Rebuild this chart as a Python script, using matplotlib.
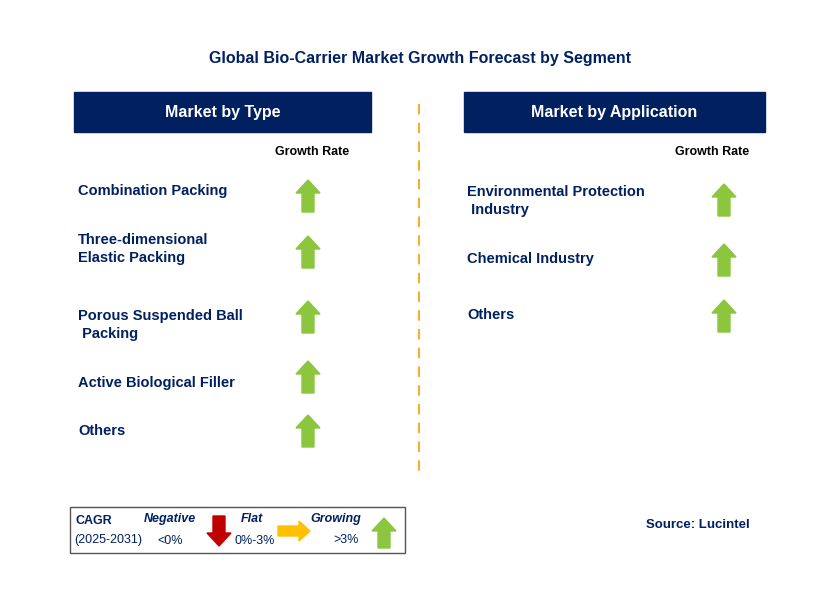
import matplotlib
matplotlib.use("Agg")
import matplotlib.pyplot as plt
from matplotlib.patches import Rectangle, Polygon

plt.rcParams["font.family"] = "Liberation Sans"

title = "Global Bio-Carrier Market Growth Forecast by Segment"
type_labels = ["Combination Packing", "Three-dimensional\nElastic Packing",
               "Porous Suspended Ball\n Packing", "Active Biological Filler", "Others"]
type_growth = ["growing"] * 5
app_labels = ["Environmental Protection\n Industry", "Chemical Industry", "Others"]
app_growth = ["growing"] * 3

NAVY = "#002060"
GREEN = "#8cc63f"
fig = plt.figure(figsize=(8.29, 5.89), dpi=100)
ax = fig.add_axes([0, 0, 1, 1])
ax.set_xlim(0, 829); ax.set_ylim(589, 0); ax.axis("off")

def up_arrow(x, y, color=GREEN, w=24, h=32):
    pts = [(x - 6, y + h/2), (x + 6, y + h/2), (x + 6, y - h/2 + 13),
           (x + w/2, y - h/2 + 13), (x, y - h/2), (x - w/2, y - h/2 + 13),
           (x - 6, y - h/2 + 13)]
    ax.add_patch(Polygon(pts, closed=True, color=color))

def down_arrow(x, y, color="#c00000", w=24, h=32):
    pts = [(x - 6, y - h/2), (x + 6, y - h/2), (x + 6, y + h/2 - 13),
           (x + w/2, y + h/2 - 13), (x, y + h/2), (x - w/2, y + h/2 - 13),
           (x - 6, y + h/2 - 13)]
    ax.add_patch(Polygon(pts, closed=True, color=color))

def right_arrow(x, y, color="#ffc000", w=32, h=20):
    pts = [(x - w/2, y - 5), (x + w/2 - 11, y - 5), (x + w/2 - 11, y - h/2),
           (x + w/2, y), (x + w/2 - 11, y + h/2), (x + w/2 - 11, y + 5), (x - w/2, y + 5)]
    ax.add_patch(Polygon(pts, closed=True, color=color))

ax.text(420, 58, title, ha="center", va="center", fontsize=11.5, fontweight="bold", color=NAVY)

for x0, x1, t in [(74, 371, "Market by Type"), (464, 765, "Market by Application")]:
    ax.add_patch(Rectangle((x0, 92), x1 - x0, 40, color=NAVY))
    ax.text((x0 + x1) / 2, 112, t, ha="center", va="center", fontsize=11.5, fontweight="bold", color="white")

ax.text(312, 152, "Growth Rate", ha="center", va="center", fontsize=9, fontweight="bold", color="black")
ax.text(712, 152, "Growth Rate", ha="center", va="center", fontsize=9, fontweight="bold", color="black")

ax.plot([419, 419], [104, 478], color="#f0b030", lw=1.5, ls=(0, (5, 4)))

type_y = [191, 249, 325, 383, 431]
type_ay = [196, 252, 317, 377, 431]
for lab, g, y, ay in zip(type_labels, type_growth, type_y, type_ay):
    ax.text(78, y, lab, ha="left", va="center", fontsize=10.5, fontweight="bold", color=NAVY, linespacing=1.45)
    up_arrow(308, ay)

app_y = [201, 259, 315]
app_ay = [200, 260, 316]
for lab, g, y, ay in zip(app_labels, app_growth, app_y, app_ay):
    ax.text(467, y, lab, ha="left", va="center", fontsize=10.5, fontweight="bold", color=NAVY, linespacing=1.45)
    up_arrow(724, ay)

ax.add_patch(Rectangle((70, 507), 335, 46, fill=False, ec="#555555", lw=1))
ax.text(76, 521, "CAGR", fontsize=9, fontweight="bold", color=NAVY, va="center")
ax.text(74, 540, "(2025-2031)", fontsize=9, color=NAVY, va="center")
ax.text(170, 519, "Negative", fontsize=9, fontweight="bold", style="italic", color=NAVY, va="center", ha="center")
ax.text(170, 541, "<0%", fontsize=9, color=NAVY, va="center", ha="center")
down_arrow(219, 531, w=24, h=30)
ax.text(252, 519, "Flat", fontsize=9, fontweight="bold", style="italic", color=NAVY, va="center", ha="center")
ax.text(255, 541, "0%-3%", fontsize=9, color=NAVY, va="center", ha="center")
right_arrow(294, 531)
ax.text(336, 519, "Growing", fontsize=9, fontweight="bold", style="italic", color=NAVY, va="center", ha="center")
ax.text(346, 540, ">3%", fontsize=9, color=NAVY, va="center", ha="center")
up_arrow(384, 533, w=24, h=30)

ax.text(750, 525, "Source: Lucintel", ha="right", va="center", fontsize=9.5, fontweight="bold", color=NAVY)

fig.savefig("out.png", dpi=100)
